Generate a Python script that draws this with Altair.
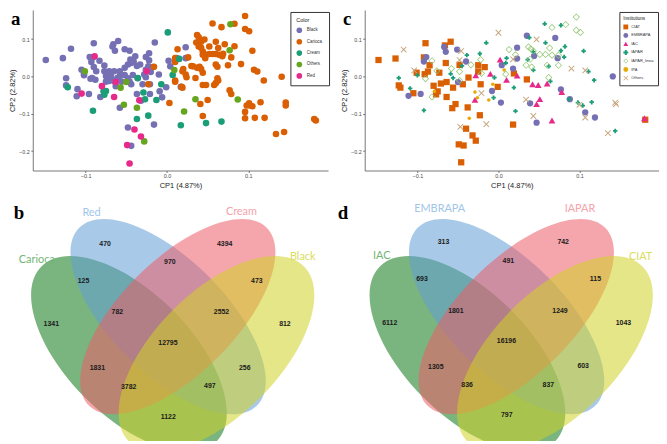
import altair as alt
import pandas as pd

# ---------------- panel a : PCA coloured by seed colour ----------------
A_BLACK = [(-0.149,0.044),(-0.128,0.049),(-0.118,0.074),(-0.090,0.089),(-0.095,0.052),(-0.067,0.080),
 (-0.066,0.086),(-0.060,0.095),(-0.064,0.069),(-0.052,0.073),(-0.046,0.069),(-0.039,0.054),(-0.041,0.040),
 (-0.045,0.045),(-0.048,0.032),(-0.044,0.036),(-0.052,0.023),(-0.058,0.014),(-0.058,0.001),(-0.065,0.014),
 (-0.071,0.014),(-0.077,0.014),(-0.083,0.042),(-0.091,0.051),(-0.093,0.039),(-0.090,0.025),(-0.087,0.014),
 (-0.092,-0.004),(-0.094,-0.006),(-0.102,0.007),(-0.105,0.018),(-0.102,0.003),(-0.124,-0.005),(-0.124,-0.024),
 (-0.110,-0.034),(-0.111,-0.053),(-0.096,-0.047),(-0.082,-0.055),(-0.075,-0.014),(-0.071,-0.012),(-0.068,-0.009),
 (-0.064,-0.014),(-0.061,-0.004),(-0.056,-0.014),(-0.052,0.004),(-0.048,-0.005),(-0.046,-0.014),(-0.044,-0.021),
 (-0.058,-0.084),(-0.048,-0.137),(-0.044,-0.186),(-0.037,0.028),(-0.033,0.032),(-0.026,0.052),(-0.022,0.062),
 (-0.022,0.043),(-0.023,0.027),(-0.028,0.005),(-0.030,-0.021),(-0.026,-0.002),(-0.021,-0.021),(-0.021,-0.047),
 (-0.015,0.091),(-0.017,0.025),(-0.010,0.005),(-0.009,-0.040),(-0.006,-0.056),(-0.001,-0.029),(0.002,0.042),
 (0.004,0.027),(0.012,0.049),(0.017,-0.028),(0.023,0.078),(0.023,0.049),(-0.016,-0.129),(-0.032,-0.065),
 (-0.037,-0.047),(-0.026,0.018),(-0.020,0.012),(-0.036,-0.005),(-0.042,0.004),(-0.077,0.029),(-0.088,-0.009),
 (-0.075,0.001),(-0.069,0.001),(-0.063,-0.026)]
A_CARIOCA = [(0.096,0.162),(0.056,0.142),(0.083,0.141),(0.067,0.132),(0.096,0.127),(0.101,0.121),(0.046,0.099),
 (0.037,0.111),(0.039,0.105),(0.042,0.093),(0.036,0.091),(0.039,0.080),(0.042,0.077),(0.044,0.067),(0.044,0.058),
 (0.048,0.058),(0.052,0.060),(0.060,0.060),(0.063,0.076),(0.064,0.058),(0.068,0.054),(0.069,0.061),(0.079,0.051),
 (0.083,0.081),(0.105,0.069),(0.060,0.093),(0.052,0.080),(0.013,0.073),(0.010,0.049),(0.010,0.039),(0.020,0.020),
 (0.019,0.014),(0.030,0.028),(0.037,0.023),(0.040,0.026),(0.042,0.020),(0.044,0.010),(0.035,-0.004),(0.023,0.005),
 (0.024,-0.002),(0.010,-0.011),(0.010,-0.014),(0.018,-0.028),(0.019,-0.030),(0.044,-0.023),(0.048,-0.023),
 (0.058,-0.023),(0.060,-0.018),(0.062,-0.005),(0.063,-0.011),(0.062,0.026),(0.060,0.032),(0.075,0.030),
 (0.091,0.033),(0.107,0.018),(0.111,0.013),(0.119,-0.011),(0.141,-0.001),(0.079,-0.047),(0.077,-0.037),
 (0.101,-0.072),(0.102,-0.078),(0.105,-0.080),(0.115,-0.069),(0.098,-0.078),(0.096,-0.095),(0.096,-0.112),
 (0.108,-0.111),(0.120,-0.111),(0.050,-0.063),(0.041,-0.074),(0.044,-0.106),(-0.023,-0.021),(0.003,-0.071),
 (0.134,-0.154),(0.144,-0.149),(0.146,-0.070),(0.146,-0.078),(0.181,-0.114),(0.183,-0.118),(0.047,0.049),
 (0.056,0.060),(0.071,0.086),(0.026,0.051),(-0.016,0.026),(0.032,0.027)]
A_CREAM = [(0.001,0.118),(0.015,0.047),(0.007,0.004),(-0.007,-0.021),(-0.013,-0.063),(-0.029,-0.043),
 (-0.027,-0.061),(-0.036,-0.004),(-0.023,-0.105),(-0.037,-0.114),(-0.078,-0.040),(-0.075,-0.039),(-0.077,-0.049),
 (-0.091,-0.092),(-0.122,-0.029),(0.017,-0.131),(0.048,-0.125),(0.067,-0.121)]
A_OTHERS = [(0.078,0.140),(0.077,0.070),(0.009,0.017),(-0.101,0.014),(-0.050,-0.015),(-0.057,-0.030),
 (-0.053,-0.076),(-0.037,-0.084),(-0.028,-0.174),(0.021,-0.094),(0.035,-0.061),(0.087,-0.062)]
A_RED = [(-0.089,0.054),(-0.080,-0.026),(-0.105,-0.046),(-0.065,-0.055),(-0.063,-0.015),(-0.025,0.014),
 (-0.034,-0.064),(-0.040,-0.142),(-0.032,-0.161),(-0.049,-0.184),(-0.046,-0.233)]
A_GROUPS = ["Black", "Carioca", "Cream", "Others", "Red"]
A_COLORS = ["#7570b3", "#d95f02", "#1b9e77", "#66a61e", "#e7298a"]

# ---------------- panel c : PCA by institution ----------------
C_CIAT = [(-0.148,0.044),(-0.127,0.048),(-0.090,0.089),(-0.066,0.083),(-0.059,0.093),(-0.092,0.051),(-0.085,0.030),
 (-0.087,0.013),(-0.101,0.010),(-0.091,0.006),(-0.065,0.036),(-0.073,0.010),(-0.064,-0.015),(-0.071,-0.019),
 (-0.080,-0.025),(-0.075,-0.040),(-0.077,-0.048),(-0.123,-0.024),(-0.121,-0.030),(-0.105,-0.045),(-0.064,-0.055),
 (-0.056,-0.030),(-0.053,-0.074),(-0.057,-0.085),(-0.049,-0.182),(-0.046,-0.230),(-0.025,0.030),(-0.017,0.025),
 (-0.025,0.013),(-0.037,-0.003),(-0.022,-0.021),(-0.044,-0.021),(-0.001,-0.028),(0.019,0.008),(0.035,-0.008),
 (-0.038,-0.083),(-0.023,-0.104),(-0.040,-0.140),(-0.032,-0.158),(-0.028,-0.172),(-0.043,-0.185),(0.018,-0.129),
 (0.181,-0.116),(-0.048,0.031)]
C_EMBRAPA = [(-0.089,0.052),(-0.092,0.040),(-0.067,0.079),(-0.065,0.066),(-0.051,0.072),(-0.040,0.040),
 (-0.050,-0.015),(-0.111,-0.052),(-0.096,-0.047),(-0.008,-0.039),(0.003,-0.070),(0.023,0.077),(0.023,0.048),
 (0.018,0.021),(0.035,0.109),(0.044,0.055),(0.070,0.103),(0.073,0.049),(0.039,-0.072),(0.047,-0.124),
 (0.004,0.030),(0.141,0.000),(0.077,-0.035),(0.088,-0.061),(0.107,-0.096),(0.119,-0.110)]
C_IAC = [(0.002,0.045),(-0.010,0.007),(-0.028,0.003),(0.010,-0.009),(0.023,0.002),(0.042,-0.021),(0.049,-0.023),
 (0.060,-0.019),(-0.029,-0.063),(0.051,-0.061),(0.047,-0.074),(0.066,-0.118),(0.078,-0.042),(0.180,-0.112)]
C_IAPAR = [(-0.123,-0.004),(-0.100,0.003),(-0.109,-0.032),(-0.092,-0.091),(-0.059,0.007),(-0.056,-0.004),
 (-0.045,0.028),(-0.039,0.057),(-0.023,0.061),(-0.015,0.090),(0.010,0.049),(0.009,0.036),(-0.005,-0.003),
 (0.019,-0.030),(-0.006,-0.057),(0.021,-0.093),(0.036,0.045),(0.038,0.104),(0.043,0.066),(0.043,0.017),
 (0.057,0.141),(0.058,0.090),(0.062,0.027),(0.064,-0.013),(0.077,0.137),(0.082,0.080),(0.077,0.069),
 (0.081,0.052),(0.105,0.068),(0.111,0.013),(0.118,-0.010),(0.087,-0.061),(0.098,-0.070),(0.104,-0.078),
 (0.115,-0.069),(0.144,-0.146)]
C_IAPAR_LINEA = [(-0.082,0.042),(-0.090,-0.006),(-0.076,0.015),(-0.082,-0.055),(-0.058,0.021),(-0.048,0.013),
 (-0.048,-0.011),(-0.034,0.031),(-0.022,0.045),(-0.021,0.008),(0.013,0.072),(0.021,0.058),(0.009,0.006),
 (0.037,0.079),(0.040,0.074),(0.043,0.068),(0.034,0.030),(0.041,0.025),(0.039,0.046),(0.051,0.059),
 (0.058,0.059),(0.063,0.076),(0.066,0.057),(0.066,0.131),(0.060,0.030),(0.062,-0.003),(0.074,0.057),
 (0.074,0.030),(0.083,0.139),(0.096,0.159),(0.096,0.124),(0.101,0.118)]
C_IPA = [(-0.029,-0.042),(-0.026,-0.057),(-0.012,-0.063),(-0.007,-0.021),(-0.036,-0.112),(0.007,0.017),
 (-0.079,-0.040)]
C_OTHERS = [(-0.117,0.072),(-0.104,0.016),(-0.046,0.068),(-0.048,0.044),(0.000,0.117),(-0.021,-0.045),
 (-0.015,-0.128),(-0.047,-0.135),(0.047,0.099),(0.034,-0.062),(0.043,-0.106),(0.018,0.046),(0.090,0.021),
 (0.107,0.016),(0.144,-0.070),(0.145,-0.074),(0.107,-0.110),(0.135,-0.152),(0.100,-0.076)]
C_GROUPS = ["CIAT", "EMBRAPA", "IAC", "IAPAR", "IAPAR_linea", "IPA", "Others"]

X_TICKS = [-0.1, 0.0, 0.1]
Y_TICKS = [-0.2, -0.1, 0.0, 0.1]
X_TITLE = "CP1 (4.87%)"
Y_TITLE = "CP2 (2.82%)"

# ---------------- Venn diagrams (b, d) ----------------
B_SETS = ["Red", "Cream", "Carioca", "Black"]
B_COUNTS = [470, 4394, 125, 970, 473, 782, 2552, 1341, 812, 12795, 1831, 256, 3782, 497, 1122]
D_SETS = ["EMBRAPA", "IAPAR", "IAC", "CIAT"]
D_COUNTS = [313, 742, 693, 491, 115, 1801, 1249, 6112, 1043, 16196, 1305, 603, 836, 837, 797]

# ---------------- layout / style (not data) ----------------
X_DOM = [-0.165, 0.198]
Y_DOM = [-0.252, 0.178]
AX_OFF = 22                          # room kept inside each scatter group for its y axis
K = 651 / 667.0                      # reference px -> chart px for venn panel
REGION_POS = [(97.3, 240), (221, 240), (75, 278.3), (164.3, 259.3), (254.3, 278.3), (110, 310.7),
              (217.7, 310.7), (41.7, 323.3), (283.3, 323.3), (162.3, 342.3), (89.3, 369),
              (241.7, 368.3), (121.7, 387.7), (205.7, 387.3), (162.7, 419)]
SET_POS_B = [(83.3, 208.3), (238.3, 207.3), (26.7, 256.7), (301.7, 254.3)]
SET_POS_D = [(443.3, 204), (588.3, 204), (383.3, 252.7), (651, 254.3)]
SET_TXT_COL = ["#9fc5e8", "#f4a3aa", "#74b576", "#dcdc60"]
# ellipse: (cx, cy, semi-major, semi-minor, angle, fill) in reference px, drawn green, blue, pink, yellow
ELLIPSES = [(122, 354, 128, 64, 45, "#0d7716"), (162.5, 315.5, 130, 59, 45, "#619fd5"),
            (172.5, 315.5, 130, 59, 135, "#ed5d68"), (212.5, 354, 128, 64, 135, "#d0d227")]
D_SHIFT = 350

FONT = "Liberation Sans"
XPATH = ("M-1,-0.78L-0.78,-1L0,-0.22L0.78,-1L1,-0.78L0.22,0L1,0.78L0.78,1L0,0.22"
         "L-0.78,1L-1,0.78L-0.22,0Z")
DIAMOND_RING = "M0,-1L1,0L0,1L-1,0ZM0,-0.74L-0.74,0L0,0.74L0.74,0Z"
C_SHAPES = ["square", "circle", "triangle-up", "cross", DIAMOND_RING, "circle", XPATH]
C_COLORS = ["#d95f02", "#7570b3", "#e7298a", "#1b9e77", "#8dc46a", "#e6ab02", "#c7a67e"]
C_SIZES = [40, 40, 46, 20, 52, 13, 40]


def ellipse_path(r):
    k = 0.5523
    return (f"M-1,0C-1,{-k*r:.4f} {-k:.4f},{-r:.4f} 0,{-r:.4f}"
            f"C{k:.4f},{-r:.4f} 1,{-k*r:.4f} 1,0"
            f"C1,{k*r:.4f} {k:.4f},{r:.4f} 0,{r:.4f}"
            f"C{-k:.4f},{r:.4f} -1,{k*r:.4f} -1,0Z")


def axes(w):
    ax = dict(grid=False, domainColor="#555555", tickColor="#555555", labelColor="#4d4d4d",
              labelFont=FONT, titleFont=FONT, titleFontWeight="normal", labelFontSize=5.5,
              titleFontSize=7.5, titleColor="#222222", tickSize=2, labelPadding=1.5, titlePadding=2,
              domainWidth=0.8, tickWidth=0.8, format=".1f")
    x = alt.X("x:Q", scale=alt.Scale(domain=X_DOM, nice=False, zero=False, range=[AX_OFF, w]),
              axis=alt.Axis(values=X_TICKS, title=X_TITLE, **ax))
    y = alt.Y("y:Q", scale=alt.Scale(domain=Y_DOM, nice=False, zero=False),
              axis=alt.Axis(values=Y_TICKS, title=Y_TITLE, offset=-AX_OFF, **ax))
    return x, y


def letter(ch):
    return alt.Chart(pd.DataFrame({"t": [ch]})).mark_text(
        font="Liberation Serif", fontWeight="bold", fontSize=19, align="left", baseline="alphabetic",
        color="black").encode(text="t:N", x=alt.value(0), y=alt.value(15))


# ---- panel a
WA = 320
rows = []
for g, pts in zip(A_GROUPS, [A_BLACK, A_CARIOCA, A_CREAM, A_OTHERS, A_RED]):
    rows += [{"x": px, "y": py, "grp": g} for px, py in pts]
dfa = pd.DataFrame(rows)
xa, ya = axes(WA)
pts_a = alt.Chart(dfa).mark_point(filled=True, size=44, opacity=1, strokeWidth=0).encode(
    x=xa, y=ya,
    color=alt.Color("grp:N", scale=alt.Scale(domain=A_GROUPS, range=A_COLORS),
                    legend=alt.Legend(title="Color", orient="none", legendX=282, legendY=2,
                                      direction="vertical", strokeColor="#333333", fillColor="white",
                                      padding=6, titlePadding=4, rowPadding=5.5, symbolSize=32,
                                      labelFontSize=4.5, titleFontSize=5.5, labelOffset=4.5,
                                      titleFont=FONT, labelFont=FONT, titleFontWeight="normal",
                                      titleColor="#222222", labelColor="#333333",
                                      symbolStrokeWidth=0, symbolOpacity=1)))
A = alt.layer(pts_a, letter("a")).properties(width=WA, height=162)

# ---- panel c
WC = 319
rows = []
for g, pts in zip(C_GROUPS, [C_CIAT, C_EMBRAPA, C_IAC, C_IAPAR, C_IAPAR_LINEA, C_IPA, C_OTHERS]):
    rows += [{"x": px, "y": py, "inst": g} for px, py in pts]
dfc = pd.DataFrame(rows)
legc = alt.Legend(title="Institutions", orient="none", legendX=279, legendY=2, direction="vertical",
                  strokeColor="#333333", fillColor="white", padding=4, titlePadding=4, rowPadding=3.6,
                  symbolSize=24, labelFontSize=4, titleFontSize=4.6, labelOffset=3, titleFont=FONT,
                  labelFont=FONT, titleFontWeight="normal", titleColor="#222222", labelColor="#333333",
                  symbolStrokeWidth=0, symbolOpacity=1)
xc, yc = axes(WC)
basec = alt.Chart(dfc).encode(
    x=xc, y=yc,
    color=alt.Color("inst:N", scale=alt.Scale(domain=C_GROUPS, range=C_COLORS), legend=legc),
    shape=alt.Shape("inst:N", scale=alt.Scale(domain=C_GROUPS, range=C_SHAPES), legend=legc))
c_layers = [basec.transform_filter(alt.datum.inst == g).mark_point(filled=True, size=s, opacity=1,
                                                                     strokeWidth=0)
            for g, s in zip(C_GROUPS, C_SIZES)]
C = alt.layer(*c_layers, letter("c")).properties(width=WC, height=162)

top = alt.hconcat(A, C, spacing=10).resolve_scale(
    x="independent", y="independent", color="independent", shape="independent"
).resolve_axis(x="independent", y="independent").resolve_legend(color="independent",
                                                                 shape="independent")

# ---- venn panels b and d
vx = alt.Scale(domain=[0, 667], nice=False, zero=False)
vy = alt.Scale(domain=[190, 444], nice=False, zero=False, reverse=True)
erows, nrows, srows = [], [], []
for off, counts, sets, spos, dy in [(0, B_COUNTS, B_SETS, SET_POS_B, 0),
                                    (D_SHIFT, D_COUNTS, D_SETS, SET_POS_D, -1.5)]:
    for cx, cy, a, b, ang, col in ELLIPSES:
        erows.append({"x": cx + off, "y": cy, "shape": ellipse_path(b / a),
                      "size": (2 * a * K) ** 2, "angle": ang, "color": col})
    for (px, py), n in zip(REGION_POS, counts):
        nrows.append({"x": px + off, "y": py + dy, "t": str(n)})
    for (px, py), s, col in zip(spos, sets, SET_TXT_COL):
        srows.append({"x": px, "y": py, "t": s, "color": col})

ell = alt.Chart(pd.DataFrame(erows)).mark_point(filled=True, fillOpacity=0.55, opacity=1,
                                                strokeWidth=0, clip=True).encode(
    x=alt.X("x:Q", scale=vx, axis=None), y=alt.Y("y:Q", scale=vy, axis=None),
    shape=alt.Shape("shape:N", scale=None), size=alt.Size("size:Q", scale=None),
    angle=alt.Angle("angle:Q", scale=None), fill=alt.Fill("color:N", scale=None))
nums = alt.Chart(pd.DataFrame(nrows)).mark_text(font=FONT, fontWeight="bold", fontSize=7,
                                                color="#1a1a1a", align="center", baseline="middle").encode(
    x=alt.X("x:Q", scale=vx, axis=None), y=alt.Y("y:Q", scale=vy, axis=None), text="t:N")
setl = alt.Chart(pd.DataFrame(srows)).mark_text(font="Lato", fontSize=11, align="center",
                                                baseline="middle").encode(
    x=alt.X("x:Q", scale=vx, axis=None), y=alt.Y("y:Q", scale=vy, axis=None), text="t:N",
    color=alt.Color("color:N", scale=None))
lets = alt.Chart(pd.DataFrame({"x": [3, 338], "y": [215, 215], "t": ["b", "d"]})).mark_text(
    font="Liberation Serif", fontWeight="bold", fontSize=19, align="left", baseline="alphabetic",
    color="black").encode(x=alt.X("x:Q", scale=vx, axis=None), y=alt.Y("y:Q", scale=vy, axis=None),
                          text="t:N")
V = alt.layer(ell, nums, setl, lets).properties(width=651, height=248)

chart = alt.vconcat(top, V, spacing=6).properties(
    padding=0, background="white").resolve_scale(x="independent", y="independent",
                                                 color="independent", shape="independent",
                                                 fill="independent", size="independent"
                                                 ).configure_view(stroke=None)

chart.save("out.html", embed_options={"renderer": "svg", "actions": False})
